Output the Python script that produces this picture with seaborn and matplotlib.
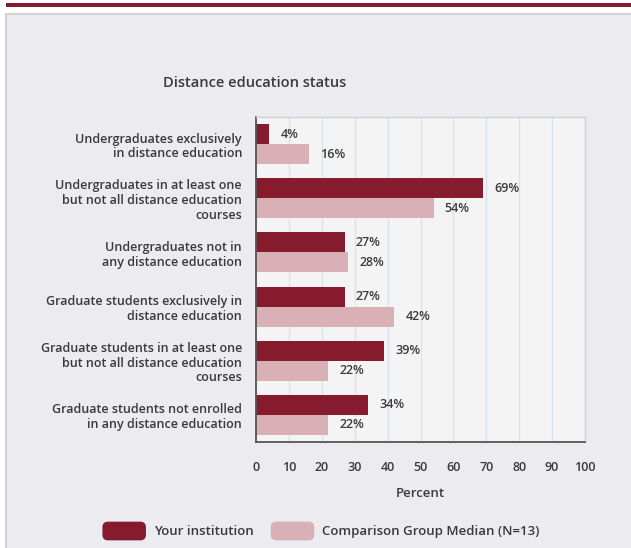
import numpy as np
import pandas as pd
import matplotlib.pyplot as plt
import seaborn as sns
from matplotlib.patches import Rectangle, Patch, FancyBboxPatch
from matplotlib.legend_handler import HandlerPatch

# data
categories = [
    "Undergraduates exclusively\nin distance education",
    "Undergraduates in at least one\nbut not all distance education\ncourses",
    "Undergraduates not in\nany distance education",
    "Graduate students exclusively in\ndistance education",
    "Graduate students in at least one\nbut not all distance education\ncourses",
    "Graduate students not enrolled\nin any distance education",
]
your_institution = [4, 69, 27, 27, 39, 34]
comparison_median = [16, 54, 28, 42, 22, 22]
series_names = ["Your institution", "Comparison Group Median (N=13)"]

dark_red = "#861b2d"
light_pink = "#d8b0b6"
text_col = "#3a3a3a"
fw = 600

df = pd.DataFrame({
    "category": categories * 2,
    "value": your_institution + comparison_median,
    "group": [series_names[0]] * len(categories) + [series_names[1]] * len(categories),
})

sns.set_style("white")
plt.rcParams["font.family"] = ["Open Sans", "DejaVu Sans"]
plt.rcParams["font.weight"] = fw


class RoundHandler(HandlerPatch):
    # rounded legend swatches
    def create_artists(self, legend, orig_handle, xdescent, ydescent, width, height, fontsize, trans):
        p = FancyBboxPatch((-xdescent, -ydescent), width, height,
                           boxstyle="round,pad=0,rounding_size=4",
                           facecolor=orig_handle.get_facecolor(), edgecolor="none", transform=trans)
        return [p]


fig = plt.figure(figsize=(6.31, 5.48), dpi=100, facecolor="white")

# outer decoration: dark band and grey panel
fig.patches.append(Rectangle((6 / 631, 1 - 7 / 548), 1, 4 / 548, transform=fig.transFigure,
                             facecolor=dark_red, edgecolor="none", zorder=0))
fig.patches.append(Rectangle((6 / 631, -0.01), 1, 1 - 14 / 548 + 0.01, transform=fig.transFigure,
                             facecolor="#ebebf0", edgecolor="#d2d2d2", linewidth=1.5, zorder=0))

ax = fig.add_axes([256 / 631, 1 - 442 / 548, 329 / 631, 325 / 548])
ax.set_zorder(2)
ax.set_facecolor("#f4f4f4")

sns.barplot(data=df, y="category", x="value", hue="group", orient="h",
            palette=[dark_red, light_pink], width=0.74, ax=ax, legend=False,
            saturation=1, edgecolor="none")

ax.set_xlim(0, 100)
ax.set_xticks(np.arange(0, 101, 10))
ax.set_ylim(5.5, -0.5)
ax.xaxis.grid(True, color="#dbe2ee", linewidth=1)
ax.set_axisbelow(True)

# value labels
for cont in ax.containers:
    ax.bar_label(cont, labels=[f"{v:.0f}%" for v in cont.datavalues], padding=8,
                 fontsize=9, color=text_col, fontweight=fw)

ax.set_ylabel("")
ax.set_xlabel("Percent", fontsize=9.5, color=text_col, fontweight=fw, labelpad=9)
ax.tick_params(axis="x", length=0, pad=14, labelsize=9, labelcolor=text_col)
ax.tick_params(axis="y", which="major", length=0, pad=10, labelsize=9, labelcolor=text_col)
ax.set_yticks(np.arange(-0.5, 6, 1), minor=True)
ax.tick_params(axis="y", which="minor", length=6, color="#555555", width=1.2)
for lbl in ax.get_yticklabels():
    lbl.set_horizontalalignment("right")
    lbl.set_multialignment("right")
    lbl.set_linespacing(1.18)

for side in ["left", "bottom"]:
    ax.spines[side].set_color("#555555")
    ax.spines[side].set_linewidth(1.3)
for side in ["top", "right"]:
    ax.spines[side].set_color("#cfd2da")
    ax.spines[side].set_linewidth(1)

fig.text(163 / 631, 1 - 83 / 548, "Distance education status", fontsize=10.5,
         color=text_col, fontweight=fw, va="center", ha="left")

handles = [Patch(facecolor=dark_red, label=series_names[0]),
           Patch(facecolor=light_pink, label=series_names[1])]
fig.legend(handles=handles, loc="center", bbox_to_anchor=(321 / 631, 1 - 531 / 548),
           ncol=2, frameon=False, fontsize=9.5, handlelength=3.3, handleheight=1.8,
           handletextpad=0.6, columnspacing=1.3, labelcolor=text_col,
           handler_map={Patch: RoundHandler()})

fig.savefig("out.png", dpi=100, facecolor=fig.get_facecolor())
